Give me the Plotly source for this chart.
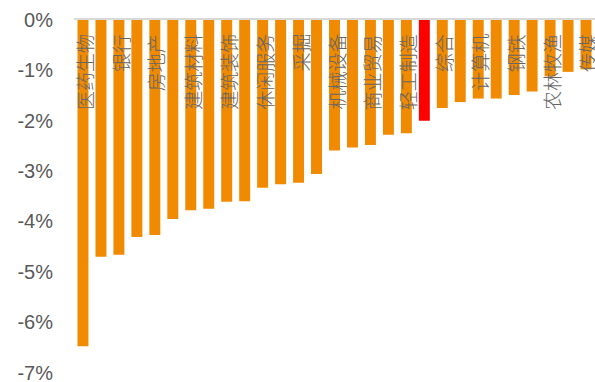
import plotly.graph_objects as go

categories = ["医药生物", "食品饮料", "银行", "家用电器", "房地产", "非银金融", "建筑材料",
              "公用事业", "建筑装饰", "交通运输", "休闲服务", "纺织服装", "采掘", "化工",
              "机械设备", "汽车", "商业贸易", "电气设备", "轻工制造", "沪深300", "综合",
              "有色金属", "计算机", "电子", "钢铁", "通信", "农林牧渔", "国防军工", "传媒"]
values = [-6.48, -4.70, -4.66, -4.31, -4.27, -3.95, -3.78, -3.75, -3.61, -3.60,
          -3.33, -3.26, -3.23, -3.06, -2.59, -2.53, -2.48, -2.28, -2.25, -2.00,
          -1.75, -1.63, -1.56, -1.56, -1.49, -1.42, -1.12, -1.03, -0.98]
highlight = "沪深300"
y_ticks = [0, -1, -2, -3, -4, -5, -6, -7]
y_ticktext = ["0%", "-1%", "-2%", "-3%", "-4%", "-5%", "-6%", "-7%"]
shown_labels = categories[::2]

colors = ["#FF0000" if c == highlight else "#F08A00" for c in categories]

fig = go.Figure(go.Bar(x=categories, y=values, marker=dict(color=colors, line=dict(width=0))))

for c in shown_labels:
    fig.add_annotation(x=c, y=0, xref="x", yref="y", text=c, showarrow=False,
                       textangle=-90, yanchor="top", xanchor="center", yshift=-12, xshift=1,
                       font=dict(family="Noto Sans CJK SC", size=19, color="#666666", weight=300))

fig.update_layout(
    width=595, height=382,
    margin=dict(l=74, r=0, t=20, b=9, autoexpand=False),
    paper_bgcolor="white", plot_bgcolor="white",
    bargap=0.39, showlegend=False,
    xaxis=dict(type="category", side="top", showticklabels=False, showline=True,
               range=[-0.5, len(categories) - 0.5],
               linecolor="#D9D9D9", linewidth=2, ticks="", showgrid=False, zeroline=False,
               automargin=False),
    yaxis=dict(range=[-7.01, 0], tickvals=y_ticks, ticktext=y_ticktext, showgrid=False,
               zeroline=False, showline=False, ticks="", ticklabelstandoff=20,
               automargin=False, ticklabeloverflow="allow",
               tickfont=dict(family="Liberation Sans", size=20, color="#595959")),
)

fig.write_html("out.html")
